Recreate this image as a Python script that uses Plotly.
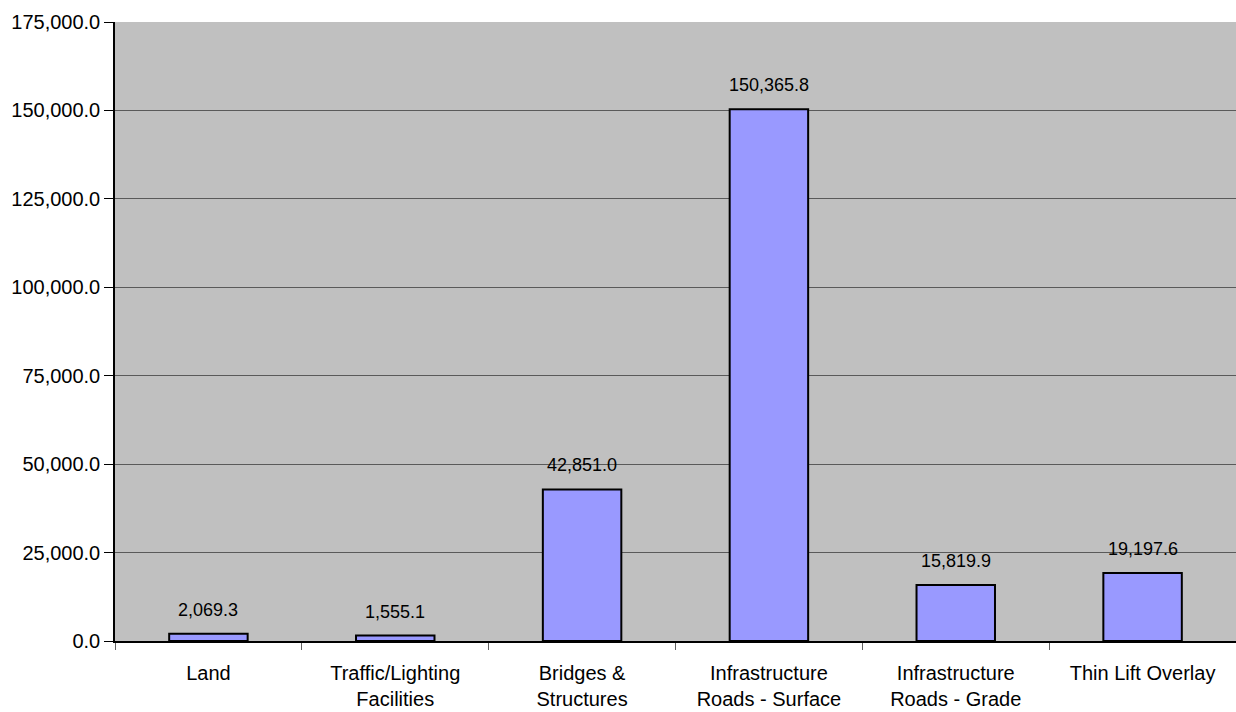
import plotly.graph_objects as go

categories = [
    "Land",
    "Traffic/Lighting<br>Facilities",
    "Bridges &<br>Structures",
    "Infrastructure<br>Roads - Surface",
    "Infrastructure<br>Roads - Grade",
    "Thin Lift Overlay",
]
values = [2069.3, 1555.1, 42851.0, 150365.8, 15819.9, 19197.6]
y_ticks = [0, 25000, 50000, 75000, 100000, 125000, 150000, 175000]

font_family = "Liberation Sans, Arial, sans-serif"

fig = go.Figure(
    go.Bar(
        x=categories,
        y=values,
        width=0.42,
        marker=dict(color="#9999FF", line=dict(color="#000000", width=2)),
        hoverinfo="skip",
    )
)

# value labels above each bar
for c, v in zip(categories, values):
    fig.add_annotation(
        x=c, y=v, text=f"{v:,.1f}", showarrow=False,
        yanchor="bottom", yshift=12,
        font=dict(family=font_family, size=18, color="#000000"),
    )

fig.update_layout(
    width=1236, height=712,
    margin=dict(l=115, r=0, t=22, b=71),
    paper_bgcolor="#FFFFFF",
    plot_bgcolor="#C0C0C0",
    showlegend=False,
    font=dict(family=font_family, size=20, color="#000000"),
    bargap=0.58,
)
fig.update_xaxes(
    tickson="boundaries", ticks="outside", ticklen=7, tickcolor="#606060",
    showline=True, linecolor="#000000", linewidth=1.5,
    showgrid=False, tickfont=dict(size=20), ticklabelstandoff=13,
)
fig.update_yaxes(
    range=[0, 175000], tickvals=y_ticks,
    ticktext=[f"{t:,.1f}" for t in y_ticks],
    ticks="outside", ticklen=9, tickcolor="#000000",
    showline=True, linecolor="#000000", linewidth=1.5,
    showgrid=True, gridcolor="#5A5A5A", gridwidth=1,
    zeroline=False, tickfont=dict(size=20),
)

fig.write_html("out.html")
